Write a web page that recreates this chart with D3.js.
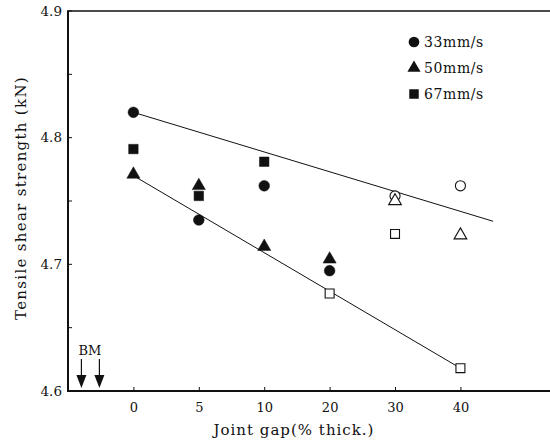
<!DOCTYPE html>
<html>
<head>
<meta charset="utf-8">
<script src="https://cdn.jsdelivr.net/npm/d3@7/dist/d3.min.js"></script>
<style>
  html, body { margin: 0; padding: 0; background: #fff; }
  svg { display: block; }
  text { font-family: "DejaVu Serif", "Liberation Serif", serif; fill: #111; }
</style>
</head>
<body>
<svg id="chart" width="550" height="441"></svg>
<script>
// Joint gap categories (evenly spaced on the axis)
const gaps = ["0", "5", "10", "20", "30", "40"];

// Tensile shear strength (kN) per welding speed, one value per gap
const speed33 = [4.820, 4.735, 4.762, 4.695, 4.754, 4.762];
const speed50 = [4.771, 4.762, 4.714, 4.704, 4.750, 4.723];
const speed67 = [4.791, 4.754, 4.781, 4.677, 4.724, 4.618];

// Which points are drawn solid (the rest are open symbols)
const filled33 = [true, true, true, true, false, false];
const filled50 = [true, true, true, true, false, false];
const filled67 = [true, true, true, false, false, false];

// Fitted trend lines: [gap index, strength]
const upperTrend = [[0, 4.820], [5.5, 4.734]];
const lowerTrend = [[0, 4.770], [5, 4.618]];

const yTicks = [4.6, 4.7, 4.8, 4.9];
const yMinor = [4.65, 4.75, 4.85];

const series = [
  { label: "33mm/s", shape: "circle", values: speed33, filled: filled33 },
  { label: "50mm/s", shape: "triangle", values: speed50, filled: filled50 },
  { label: "67mm/s", shape: "square", values: speed67, filled: filled67 }
];

const svg = d3.select("#chart");

const x = d3.scaleLinear().domain([-1, 6.4]).range([68, 552]);
const y = d3.scaleLinear().domain([4.6, 4.9]).range([391, 11]);

// frame: left, bottom and top lines
svg.append("line").attr("x1", 68).attr("x2", 68).attr("y1", 11).attr("y2", 391)
  .attr("stroke", "#111").attr("stroke-width", 2);
svg.append("line").attr("x1", 67).attr("x2", 550).attr("y1", 391).attr("y2", 391)
  .attr("stroke", "#111").attr("stroke-width", 2);
svg.append("line").attr("x1", 67).attr("x2", 550).attr("y1", 11).attr("y2", 11)
  .attr("stroke", "#111").attr("stroke-width", 1.6);

// y axis
const yAxis = d3.axisLeft(y).tickValues(yTicks).tickFormat(d3.format(".1f")).tickSize(0).tickPadding(6);
const gy = svg.append("g").attr("transform", "translate(68,0)").call(yAxis);
gy.select(".domain").remove();
gy.selectAll("text").style("font-size", "13.5px").style("font-family", '"DejaVu Serif", serif');
svg.selectAll(".ytick").data(yTicks.concat(yMinor)).enter().append("line")
  .attr("x1", 68).attr("x2", 72)
  .attr("y1", d => y(d)).attr("y2", d => y(d))
  .attr("stroke", "#111").attr("stroke-width", 1);

// x axis
const xAxis = d3.axisBottom(x).tickValues(d3.range(gaps.length)).tickFormat(i => gaps[i])
  .tickSizeInner(-4).tickSizeOuter(0).tickPadding(12);
const gx = svg.append("g").attr("transform", "translate(0,391)").call(xAxis);
gx.select(".domain").remove();
gx.selectAll("line").attr("stroke", "#111");
gx.selectAll("text").style("font-size", "13px").style("font-family", '"DejaVu Serif", serif');

// axis titles
svg.append("text").attr("x", 294).attr("y", 435).attr("text-anchor", "middle")
  .style("font-size", "15px").style("letter-spacing", "1px").text("Joint gap(% thick.)");
svg.append("text").attr("transform", "translate(26,198) rotate(-90)").attr("text-anchor", "middle")
  .style("font-size", "15px").style("letter-spacing", "1.3px").text("Tensile shear strength (kN)");

// trend lines
const line = d3.line().x(d => x(d[0])).y(d => y(d[1]));
[upperTrend, lowerTrend].forEach(t => {
  svg.append("path").attr("d", line(t)).attr("fill", "none")
    .attr("stroke", "#111").attr("stroke-width", 1);
});

// symbols
function symbolPath(shape, solid) {
  if (shape === "circle") return d3.symbol(d3.symbolCircle, solid ? 90 : 80)();
  if (shape === "triangle") return d3.symbol(d3.symbolTriangle, solid ? 75 : 70)();
  return d3.symbol(d3.symbolSquare, solid ? 90 : 80)();
}

series.forEach(s => {
  svg.append("g").selectAll("path").data(s.values).enter().append("path")
    .attr("transform", (d, i) => `translate(${x(i)},${y(d)})`)
    .attr("d", (d, i) => symbolPath(s.shape, s.filled[i]))
    .attr("fill", (d, i) => s.filled[i] ? "#111" : "#fff")
    .attr("stroke", "#111")
    .attr("stroke-width", (d, i) => s.filled[i] ? 0.5 : 1.1);
});

// legend
const legend = svg.append("g").attr("transform", "translate(414,42)");
series.forEach((s, i) => {
  const g = legend.append("g").attr("transform", `translate(0,${i * 26})`);
  g.append("path").attr("d", symbolPath(s.shape, true)).attr("fill", "#111");
  g.append("text").attr("x", 10).attr("y", 5).style("font-size", "14px")
    .style("letter-spacing", "0.6px").text(s.label);
});

// base-metal markers
svg.append("text").attr("x", 90).attr("y", 355).attr("text-anchor", "middle")
  .style("font-size", "13px").text("BM");
[x(-0.795), x(-0.52)].forEach(ax => {
  svg.append("line").attr("x1", ax).attr("x2", ax).attr("y1", 359).attr("y2", 376)
    .attr("stroke", "#111").attr("stroke-width", 1.2);
  svg.append("path")
    .attr("d", `M${ax - 5},${375} L${ax + 5},${375} L${ax},${388} Z`)
    .attr("fill", "#111");
});
</script>
</body>
</html>
